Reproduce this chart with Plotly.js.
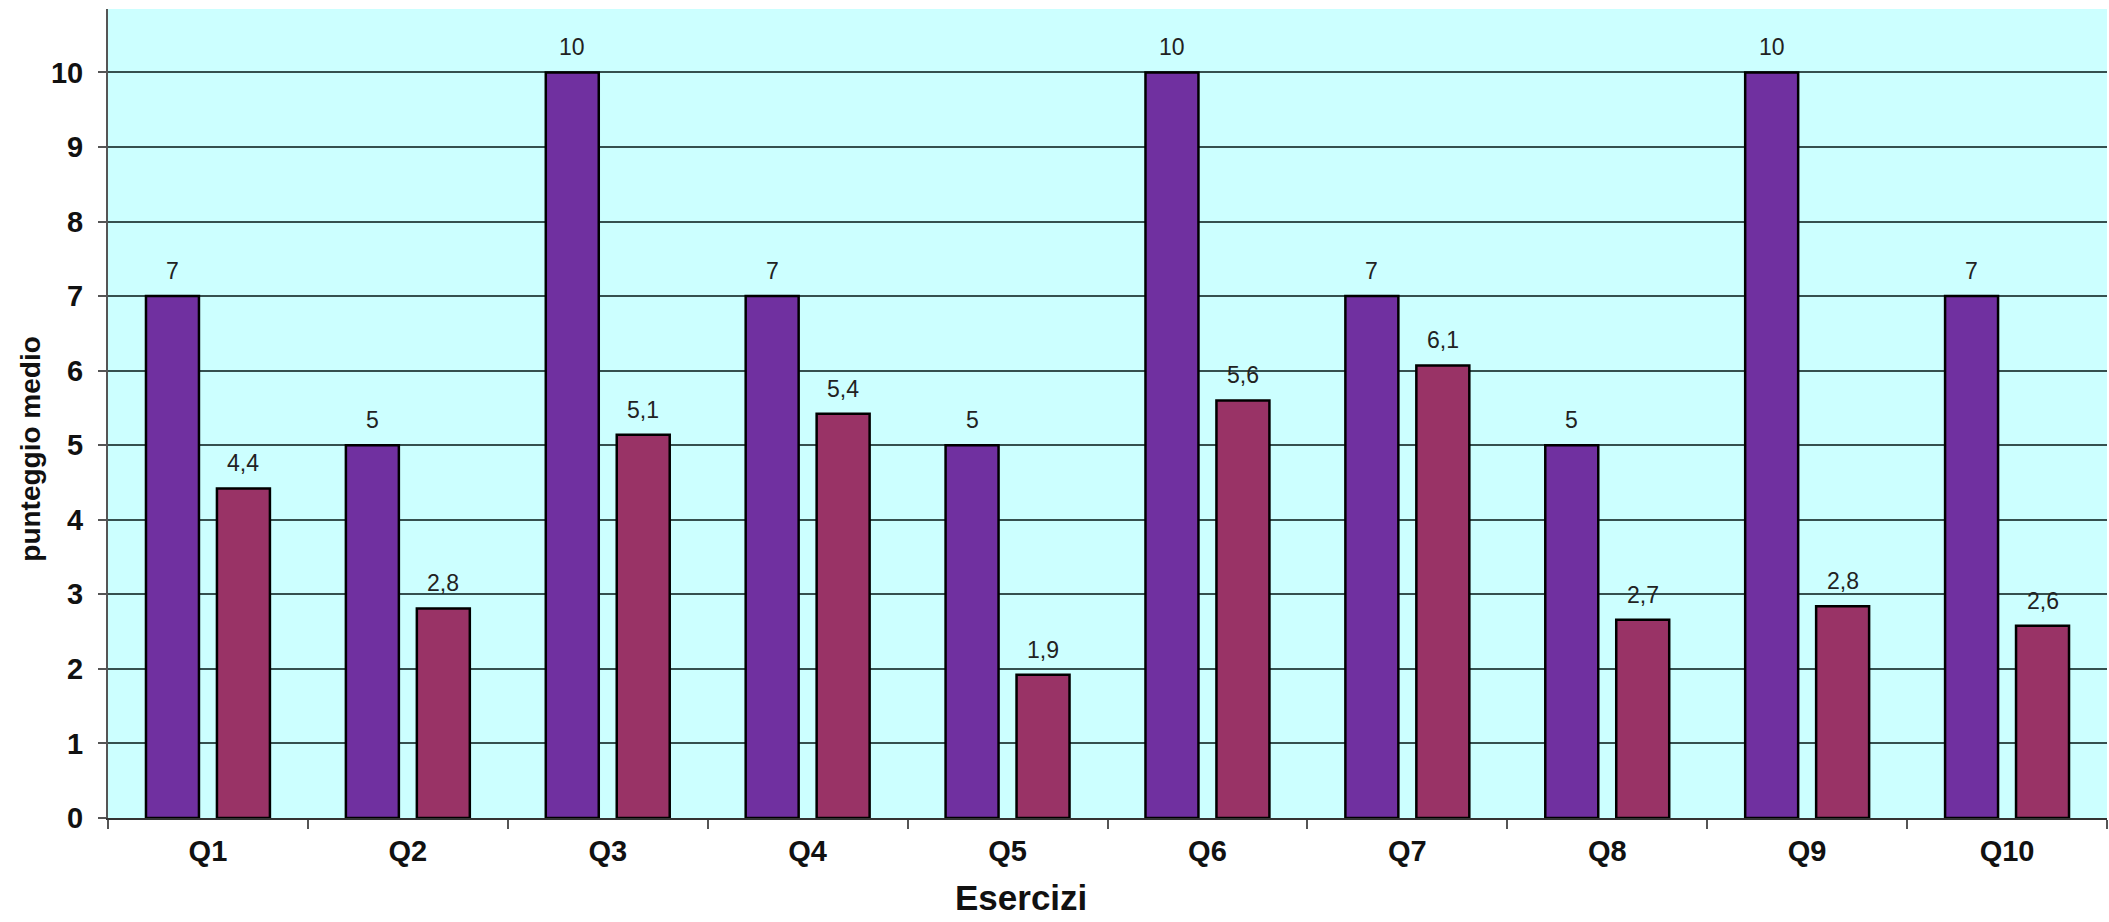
<!DOCTYPE html>
<html>
<head>
<meta charset="utf-8">
<script src="https://cdn.plot.ly/plotly-3.0.1.min.js"></script>
<style>
html,body{margin:0;padding:0;background:#fff;}
#chart{width:2109px;height:922px;}
</style>
</head>
<body>
<div id="chart"></div>
<script>
const categories = ['Q1','Q2','Q3','Q4','Q5','Q6','Q7','Q8','Q9','Q10'];
const maxScore = [7, 5, 10, 7, 5, 10, 7, 5, 10, 7];
const avgScore = [4.42, 2.81, 5.14, 5.42, 1.92, 5.60, 6.07, 2.66, 2.84, 2.58];
const yTicks = [0,1,2,3,4,5,6,7,8,9,10];

const FONT = '"Liberation Sans", Arial, sans-serif';
const fmt = v => (Math.round(v*10)/10).toString().replace('.', ',');

const traces = [
  {type:'bar', x:categories, y:maxScore, name:'max',
   marker:{color:'#7030A0', line:{color:'#000', width:2.5}}, hoverinfo:'x+y'},
  {type:'bar', x:categories, y:avgScore, name:'medio',
   marker:{color:'#993366', line:{color:'#000', width:2.5}}, hoverinfo:'x+y'}
];

const annotations = [];
categories.forEach((c,i)=>{
  annotations.push({x:c, y:maxScore[i], xref:'x', yref:'y', text:fmt(maxScore[i]),
    showarrow:false, xshift:-35.5, yshift:25, yanchor:'middle',
    font:{family:FONT, size:23, color:'#222'}});
  annotations.push({x:c, y:avgScore[i], xref:'x', yref:'y', text:fmt(avgScore[i]),
    showarrow:false, xshift:35.5, yshift:25, yanchor:'middle',
    font:{family:FONT, size:23, color:'#222'}});
});
annotations.push({text:'<b>Esercizi</b>', xref:'paper', yref:'paper', x:0.4568, y:-0.0988,
  xanchor:'center', yanchor:'middle', showarrow:false,
  font:{family:FONT, size:35, color:'#111'}});
annotations.push({text:'<b>punteggio medio</b>', xref:'paper', yref:'paper', x:-0.0388, y:0.457,
  xanchor:'center', yanchor:'middle', showarrow:false, textangle:-90,
  font:{family:FONT, size:28, color:'#111'}});

const layout = {
  width:2109, height:922,
  margin:{l:107.5, r:2, t:8.5, b:104},
  paper_bgcolor:'#ffffff', plot_bgcolor:'#CCFFFF',
  barmode:'group', bargap:0.29, bargroupgap:0.2535,
  showlegend:false,
  font:{family:FONT},
  xaxis:{type:'category', tickson:'boundaries', ticks:'outside', ticklen:9, tickwidth:2,
    tickcolor:'#555', showline:true, linecolor:'#333', linewidth:2, showgrid:false,
    tickfont:{family:FONT, size:29, color:'#111', weight:'bold'}, ticklabelstandoff:6},
  yaxis:{range:[0,10.85], tickvals:yTicks, ticktext:yTicks.map(String), ticks:'outside', ticklen:8,
    tickwidth:2, tickcolor:'#555', showline:true, linecolor:'#555', linewidth:2,
    showgrid:true, gridcolor:'#35504f', gridwidth:2, zeroline:false,
    tickfont:{family:FONT, size:29, color:'#111', weight:'bold'}, ticklabelstandoff:9},
  annotations:annotations
};

Plotly.newPlot('chart', traces, layout, {displayModeBar:false, staticPlot:true});
</script>
</body>
</html>
